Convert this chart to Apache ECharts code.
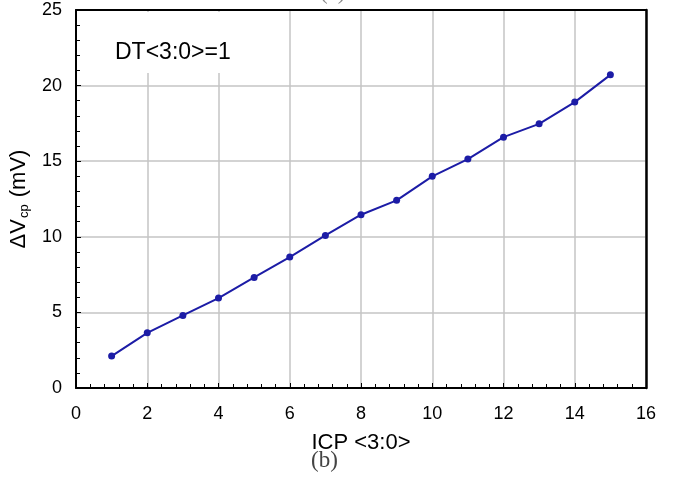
<!DOCTYPE html>
<html>
<head>
<meta charset="utf-8">
<script src="https://cdn.jsdelivr.net/npm/echarts@6/dist/echarts.min.js"></script>
<style>html,body{margin:0;padding:0;background:#fff;}#c{width:684px;height:477px;}</style>
</head>
<body>
<div id="c"></div>
<script>
const icp = [1, 2, 3, 4, 5, 6, 7, 8, 9, 10, 11, 12, 13, 14, 15];
const dvcp = [2.11, 3.65, 4.80, 5.95, 7.31, 8.66, 10.09, 11.46, 12.41, 14.00, 15.14, 16.59, 17.47, 18.91, 20.71];
const xTicks = [0, 2, 4, 6, 8, 10, 12, 14, 16];
const yTicks = [0, 5, 10, 15, 20, 25];

const chart = echarts.init(document.getElementById('c'), null, {renderer: 'canvas'});
const lineColor = '#1c1ca6';
const font = 'Liberation Sans, Arial, sans-serif';
const xMin = xTicks[0], xMax = xTicks[xTicks.length - 1];
const yMin = yTicks[0], yMax = yTicks[yTicks.length - 1];
chart.setOption({
  animation: false,
  backgroundColor: '#fff',
  grid: {left: 76, right: 38, top: 10, bottom: 89},
  xAxis: [{
    type: 'value', min: xMin, max: xMax, interval: 2,
    name: 'ICP <3:0>', nameLocation: 'middle', nameGap: 44,
    nameTextStyle: {fontFamily: font, fontSize: 22, color: '#000'},
    axisLine: {show: true, onZero: false, lineStyle: {color: '#000', width: 2}},
    axisTick: {show: true, inside: true, length: 5, lineStyle: {color: '#000', width: 1}},
    minorTick: {show: true, splitNumber: 5, length: 4, lineStyle: {color: '#000', width: 1}},
    axisLabel: {fontFamily: font, fontSize: 18, color: '#000', margin: 17},
    splitLine: {show: true, lineStyle: {color: '#c4c4c4', width: 1.5}}
  }, {
    type: 'value', position: 'top', min: xMin, max: xMax, interval: 2,
    axisLine: {show: true, onZero: false, lineStyle: {color: '#000', width: 2}},
    axisTick: {show: false}, axisLabel: {show: false}, splitLine: {show: false}
  }],
  yAxis: [{
    type: 'value', min: yMin, max: yMax, interval: 5,
    name: '{a|ΔV}{s|cp}{a| (mV)}', nameLocation: 'middle', nameGap: 41, nameRotate: 90,
    nameTextStyle: {
      fontFamily: font, fontSize: 22, color: '#000',
      rich: {
        a: {fontFamily: font, fontSize: 22, color: '#000', lineHeight: 24},
        s: {fontFamily: font, fontSize: 13, color: '#000', lineHeight: 24, verticalAlign: 'bottom', padding: [0, 1, 0, 1]}
      }
    },
    axisLine: {show: true, onZero: false, lineStyle: {color: '#000', width: 2}},
    axisTick: {show: true, inside: true, length: 5, lineStyle: {color: '#000', width: 1}},
    minorTick: {show: true, splitNumber: 5, length: 4, lineStyle: {color: '#000', width: 1}},
    axisLabel: {fontFamily: font, fontSize: 18, color: '#000', margin: 14},
    splitLine: {show: true, lineStyle: {color: '#c4c4c4', width: 1.5}}
  }, {
    type: 'value', position: 'right', min: yMin, max: yMax, interval: 5,
    axisLine: {show: true, onZero: false, lineStyle: {color: '#000', width: 2.5}},
    axisTick: {show: false}, axisLabel: {show: false}, splitLine: {show: false}
  }],
  graphic: [
    {type: 'rect', left: 82, top: 12, shape: {width: 175, height: 61}, style: {fill: '#fff'}, z: 50},
    {type: 'text', left: 115, top: 41, style: {text: 'DT<3:0>=1', fontFamily: font, fontSize: 23, fill: '#000'}, z: 51},
    {type: 'text', left: 311, top: 449, style: {text: '(b)', fontFamily: 'Liberation Serif, Times New Roman, serif', fontSize: 23, fill: '#444'}, z: 51},
    {type: 'text', left: 320, top: -19, style: {text: '(a)', fontFamily: 'Liberation Serif, Times New Roman, serif', fontSize: 23, fill: '#888'}, z: 51}
  ],
  series: [{
    type: 'line',
    xAxisIndex: 0, yAxisIndex: 0,
    data: icp.map((x, i) => [x, dvcp[i]]),
    symbol: 'circle', symbolSize: 7,
    lineStyle: {color: lineColor, width: 2},
    itemStyle: {color: lineColor},
    z: 10
  }]
});
</script>
</body>
</html>
